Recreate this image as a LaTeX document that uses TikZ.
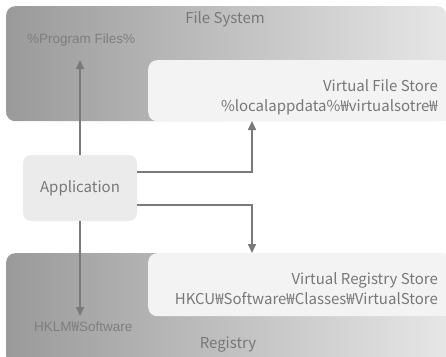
\documentclass[tikz,border=0pt]{standalone}
\usepackage{fontspec}
\setmainfont{Noto Sans CJK KR}
\newfontfamily\labelfont{Liberation Sans}
\newfontfamily\cjk{Noto Sans CJK KR}
\usetikzlibrary{positioning,arrows.meta}
\definecolor{boxDark}{HTML}{9A9A9A}
\definecolor{boxLight}{HTML}{E6E6E6}
\definecolor{storeFill}{HTML}{F3F3F3}
\definecolor{appFill}{HTML}{EBEBEB}
\definecolor{lineGray}{HTML}{7A7A7A}
\definecolor{textGray}{HTML}{787878}
\definecolor{labelGray}{HTML}{7E7E7E}
\newcommand{\won}{{\cjk ₩}}

\begin{document}
\begin{tikzpicture}[x=1pt, y=-1pt,
  area/.style={left color=boxDark, right color=boxLight, rounded corners=9pt,
    anchor=north west, inner sep=0pt},
  store/.style={fill=storeFill, rounded corners=9pt, anchor=north west, inner sep=0pt},
  caption/.style={font=\fontsize{15}{17}\selectfont, text=textGray, inner sep=0pt},
  small/.style={font=\labelfont\fontsize{13.5}{15}\selectfont, text=labelGray, inner sep=0pt},
  link/.style={draw=lineGray, line width=1.6pt, -{Triangle[length=9pt,width=8pt]}}]
  \clip (0,0) rectangle (446,356);

  % file system side
  \node[area, minimum width=440pt, minimum height=115pt] (fs) at (6,6) {};
  \node[store, minimum width=304pt, minimum height=61pt] (vfs) at (148,60) {};
  \node[caption] (fsName) at (225,19) {File System};
  \node[small, anchor=west] (pf) at (27,40) {\%Program Files\%};
  \node[caption, anchor=east] (vfsName) at (438,86) {Virtual File Store};
  \node[caption, anchor=east] (vfsPath) at (438,107) {\%localappdata\%₩virtualsotre₩};

  % registry side
  \node[area, minimum width=440pt, minimum height=112pt] (reg) at (6,253) {};
  \node[store, minimum width=304pt, minimum height=63pt] (vrs) at (148,253) {};
  \node[caption, anchor=east] (vrsName) at (438,280) {Virtual Registry Store};
  \node[caption, anchor=east] (vrsPath) at (438,299) {HKCU₩Software₩Classes₩VirtualStore};
  \node[small, anchor=west] (hklm) at (34,327) {HKLM\won Software};
  \node[caption] (regName) at (228,345) {Registry};

  % application
  \node[fill=appFill, rounded corners=8pt, minimum width=114pt, minimum height=66pt,
    caption] (app) at (80,188) {Application};

  \coordinate (pfTip) at (80,60);
  \coordinate (hkTip) at (80,316);
  \coordinate (vfsIn) at (252,121);
  \coordinate (vrsIn) at (252,253);
  \draw[link] (app.north) -- (pfTip);
  \draw[link] (app.south) -- (hkTip);
  \draw[link] ([yshift=16pt]app.east) -| (vfsIn);
  \draw[link] ([yshift=-17pt]app.east) -| (vrsIn);
\end{tikzpicture}
\end{document}
